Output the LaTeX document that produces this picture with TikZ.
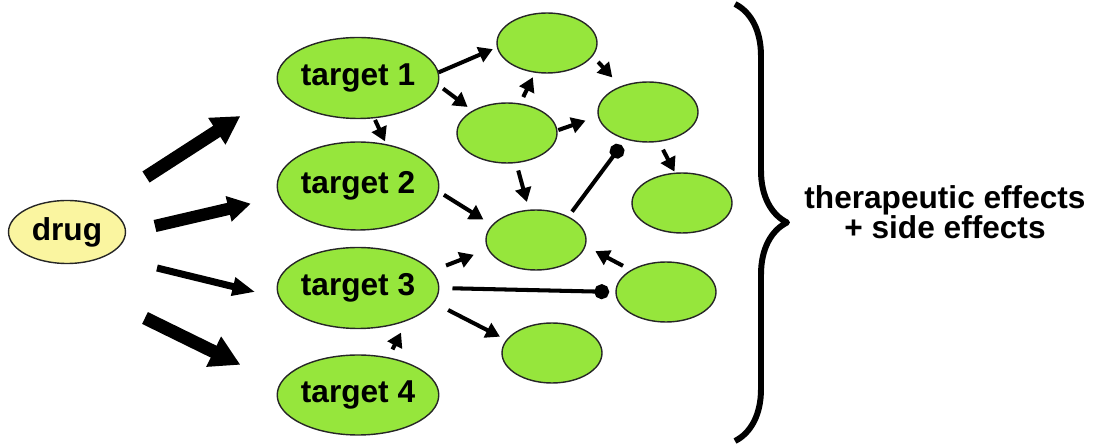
\documentclass[tikz,border=0pt]{standalone}
\usepackage{fontspec}
\setmainfont{Liberation Sans}
\usetikzlibrary{arrows.meta,shapes.geometric,decorations.pathreplacing}
\definecolor{leaf}{RGB}{150,230,60}
\definecolor{pale}{RGB}{250,245,160}
\begin{document}
\begin{tikzpicture}[x=0.02cm, y=-0.02cm, font=\fontsize{18}{17}\selectfont\bfseries, line join=round,
	blob/.style={ellipse, draw=black!85, line width=0.8pt, fill=leaf, inner sep=0pt, minimum width=2cm, minimum height=1.2cm},
	tgt/.style={blob, minimum width=3.14cm, minimum height=1.62cm},
	arr/.style={line width=2.3pt, -{Triangle[length=8pt,width=9pt]}},
	inh/.style={line width=2.3pt, -{Circle[length=8.5pt]}},
	fat/.style={line cap=butt}]
	\useasboundingbox (0,0) rectangle (1098,445);
	% nodes
	\node[blob, fill=pale, minimum width=2.34cm, minimum height=1.26cm] (drug) at (67,232) {drug};
	\node[tgt] (t1) at (358,78) {target 1};
	\node[tgt, minimum height=1.76cm] (t2) at (358,186) {target 2};
	\node[tgt] (t3) at (358,288) {target 3};
	\node[tgt, minimum height=1.6cm] (t4) at (358,395) {target 4};
	\foreach \n/\x/\y in {e1/547/43, e2/507/133, e3/648/112, e4/682/203, e5/536/240, e6/666/292, e7/552/353}
		\node[blob] (\n) at (\x,\y) {};
	% drug -> targets
	\coordinate (d1) at (146,177);
	\coordinate (d2) at (155,226);
	\coordinate (d3) at (157,268);
	\coordinate (d4) at (145,318);
	\draw[fat, line width=7.5pt, -{Triangle[length=16pt,width=17pt]}, shorten >=27pt] (d1) -- (t1.189);
	\draw[fat, line width=7pt, -{Triangle[length=13pt,width=14pt]}, shorten >=16.5pt] (d2) -- (t2.188);
	\draw[fat, line width=4pt, -{Triangle[length=13pt,width=10pt]}, shorten >=13.8pt] (d3) -- (t3.187);
	\draw[fat, line width=7.5pt, -{Triangle[length=17pt,width=18pt]}, shorten >=24.8pt] (d4) -- (t4.172);
	% network
	\foreach \a/\b/\s/\t in {t1.4/e1.185/0pt/2.5pt, t1.-5/e2.147/3.4pt/3.4pt, t1.-68/t2.56/1pt/1.7pt,
		e2.66/e1.248/4pt/2.8pt, e1.-16/e3.137/4.5pt/6.8pt, e2.3/e3.185/0.5pt/7.4pt,
		e2.-73/e5.103/4.3pt/4.5pt, t2.-4/e5.161/3.4pt/5.7pt, e3.-70/e4.103/5pt/0.6pt,
		e6.148/e5.-7/5pt/6.2pt, t3.13/e5.191/8.5pt/8.5pt, t3.-11/e7.164/9pt/4pt, t4.51/t3.-34/5pt/7.4pt}
		\draw[arr, shorten <=\s, shorten >=\t] (\a) -- (\b);
	\draw[inh, shorten <=3.4pt, shorten >=4pt] (e5.36) -- (e3.231);
	\draw[inh, shorten <=7.4pt, shorten >=3.5pt] (t3.0) -- (e6.180);
	% effects
	\draw[line width=3.4pt, decorate, decoration={brace, amplitude=1.04cm}] (735,4) -- (735,441);
	\node[align=center] (fx) at (945,212) {therapeutic effects\\+ side effects};
\end{tikzpicture}
\end{document}
